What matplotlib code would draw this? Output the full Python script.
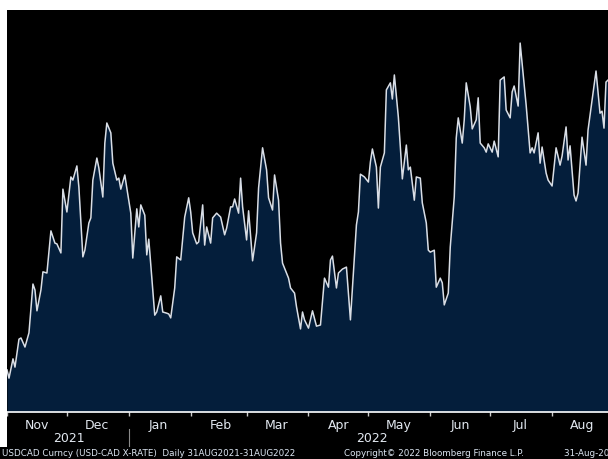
import pandas as pd
import matplotlib
matplotlib.use("Agg")
import matplotlib.pyplot as plt
import matplotlib.dates as mdates
import matplotlib.transforms as mtransforms
from matplotlib.patches import Rectangle

# USDCAD spot (days counted from 1 Nov 2021)
start = pd.Timestamp("2021-11-01")
day_offsets = [
    0, 1, 3, 4, 6, 7, 9, 11, 13, 14, 15, 17, 18, 20, 22, 24, 25, 27, 28, 30,
    32, 33, 35, 36, 38, 39, 41, 42, 43, 45, 46, 48, 49, 50, 52, 53, 55, 56, 57, 59,
    60, 62, 63, 65, 66, 67, 69, 70, 71, 73, 74, 75, 77, 78, 80, 81, 82, 84, 85, 87,
    89, 91, 92, 93, 95, 96, 98, 99, 100, 102, 103, 105, 107, 109, 110, 112, 113, 114, 116, 117,
    118, 120, 121, 123, 125, 126, 128, 130, 131, 133, 134, 136, 137, 138, 140, 141, 142, 144, 145, 147,
    148, 149, 151, 153, 155, 157, 159, 161, 162, 163, 165, 166, 168, 170, 172, 175, 176, 177, 179, 181,
    182, 183, 185, 186, 187, 189, 190, 192, 193, 194, 196, 197, 198, 200, 201, 202, 204, 205, 207, 208,
    210, 211, 212, 214, 215, 217, 218, 219, 221, 222, 224, 225, 226, 228, 229, 230, 232, 233, 235, 236,
    237, 239, 240, 241, 243, 244, 246, 247, 249, 250, 252, 253, 254, 256, 257, 259, 260, 262, 263, 264,
    266, 267, 268, 270, 271, 273, 275, 277, 278, 280, 281, 282, 284, 285, 286, 288, 290, 291, 293, 295,
    297, 298, 299, 300, 301,
]
usdcad = [
    1.2391, 1.2370, 1.2419, 1.2398, 1.2469, 1.2472, 1.2449, 1.2485, 1.2609, 1.2594,
    1.2541, 1.2594, 1.2640, 1.2637, 1.2744, 1.2713, 1.2711, 1.2688, 1.2850, 1.2792,
    1.2881, 1.2873, 1.2909, 1.2855, 1.2678, 1.2695, 1.2764, 1.2777, 1.2873, 1.2929,
    1.2904, 1.2830, 1.2967, 1.3018, 1.2993, 1.2916, 1.2873, 1.2878, 1.2850, 1.2886,
    1.2853, 1.2789, 1.2675, 1.2800, 1.2754, 1.2810, 1.2784, 1.2683, 1.2723, 1.2594,
    1.2530, 1.2538, 1.2579, 1.2538, 1.2535, 1.2533, 1.2523, 1.2599, 1.2678, 1.2670,
    1.2779, 1.2828, 1.2792, 1.2739, 1.2711, 1.2716, 1.2810, 1.2708, 1.2754, 1.2713,
    1.2777, 1.2789, 1.2779, 1.2734, 1.2751, 1.2805, 1.2805, 1.2825, 1.2789, 1.2878,
    1.2805, 1.2721, 1.2795, 1.2668, 1.2739, 1.2853, 1.2955, 1.2899, 1.2828, 1.2797,
    1.2886, 1.2822, 1.2713, 1.2662, 1.2637, 1.2624, 1.2599, 1.2586, 1.2551, 1.2495,
    1.2538, 1.2518, 1.2497, 1.2541, 1.2502, 1.2505, 1.2624, 1.2601, 1.2670, 1.2680,
    1.2599, 1.2637, 1.2647, 1.2652, 1.2518, 1.2759, 1.2792, 1.2888, 1.2881, 1.2868,
    1.2919, 1.2952, 1.2906, 1.2802, 1.2906, 1.2942, 1.3102, 1.3120, 1.3079, 1.3140,
    1.3033, 1.2957, 1.2876, 1.2962, 1.2899, 1.2906, 1.2822, 1.2881, 1.2878, 1.2815,
    1.2764, 1.2695, 1.2690, 1.2695, 1.2601, 1.2624, 1.2612, 1.2556, 1.2586, 1.2703,
    1.2830, 1.2980, 1.3031, 1.2967, 1.3026, 1.3120, 1.3059, 1.3003, 1.3026, 1.3082,
    1.2967, 1.2955, 1.2944, 1.2965, 1.2944, 1.2972, 1.2932, 1.3127, 1.3135, 1.3051,
    1.3031, 1.3097, 1.3112, 1.3061, 1.3221, 1.3115, 1.3064, 1.2942, 1.2955, 1.2942,
    1.2993, 1.2916, 1.2957, 1.2891, 1.2873, 1.2858, 1.2955, 1.2911, 1.2934, 1.3008,
    1.2924, 1.2960, 1.2835, 1.2820, 1.2840, 1.2982, 1.2911, 1.3000, 1.3076, 1.3150,
    1.3043, 1.3048, 1.3005, 1.3122, 1.3127,
]
year_labels = ["2021", "2022"]
year_label_days = [31, 183]
footer_left = "USDCAD Curncy (USD-CAD X-RATE)  Daily 31AUG2021-31AUG2022"
footer_mid = "Copyright\u00a9 2022 Bloomberg Finance L.P."
footer_right = "31-Aug-2022 16:00:00"

dates = start + pd.to_timedelta(day_offsets, unit="D")

W, H = 608, 459
fig = plt.figure(figsize=(W / 100, H / 100), dpi=100, facecolor="black")

# white margins of the screenshot (top and left)
fig.patches.append(Rectangle((0, 1 - 10 / H), 1, 10 / H, transform=fig.transFigure,
                             facecolor="white", edgecolor="none", zorder=0))
fig.patches.append(Rectangle((0, 12 / H), 7 / W, 1 - 22 / H, transform=fig.transFigure,
                             facecolor="white", edgecolor="none", zorder=0))

ax = fig.add_axes([7 / W, (H - 412) / H, 1 - 7 / W, 402 / H])
ax.set_facecolor("black")

ymin, ymax = 1.2284, 1.3305
ax.fill_between(dates, usdcad, ymin, color="#041e3b", linewidth=0)
ax.plot(dates, usdcad, color="#d9dee6", linewidth=1.1)

ax.set_xlim(start, start + pd.Timedelta(days=301))
ax.set_ylim(ymin, ymax)

for s in ["top", "left", "right"]:
    ax.spines[s].set_visible(False)
ax.spines["bottom"].set_color("white")
ax.spines["bottom"].set_linewidth(1.2)
ax.set_yticks([])

ax.xaxis.set_major_locator(mdates.MonthLocator())
ax.xaxis.set_major_formatter(plt.NullFormatter())
ax.xaxis.set_minor_locator(mdates.MonthLocator(bymonthday=16))
ax.xaxis.set_minor_formatter(mdates.DateFormatter("%b"))
ax.tick_params(axis="x", which="major", length=3, width=1, color="#cccccc", direction="out")
ax.tick_params(axis="x", which="minor", length=0, pad=5, labelsize=9, labelcolor="#e2e8f0")

trans = mtransforms.blended_transform_factory(ax.transData, fig.transFigure)
for lab, d in zip(year_labels, year_label_days):
    ax.text(start + pd.Timedelta(days=d), (H - 438) / H, lab, transform=trans,
            ha="center", va="center", fontsize=9, color="#e2e8f0", clip_on=False)
sep = start + pd.Timedelta(days=61)
ax.plot([sep, sep], [(H - 429) / H, (H - 446) / H], transform=trans,
        color="#8a8a8a", linewidth=0.8, clip_on=False)

fig.text(2 / W, (H - 454) / H, footer_left, fontsize=6.3, color="#dce6f2",
         ha="left", va="center")
fig.text(344 / W, (H - 454) / H, footer_mid, fontsize=6.3, color="#dce6f2",
         ha="left", va="center")
fig.text(564 / W, (H - 454) / H, footer_right, fontsize=6.3, color="#dce6f2",
         ha="left", va="center")

fig.savefig("out.png", dpi=100, facecolor="black")
